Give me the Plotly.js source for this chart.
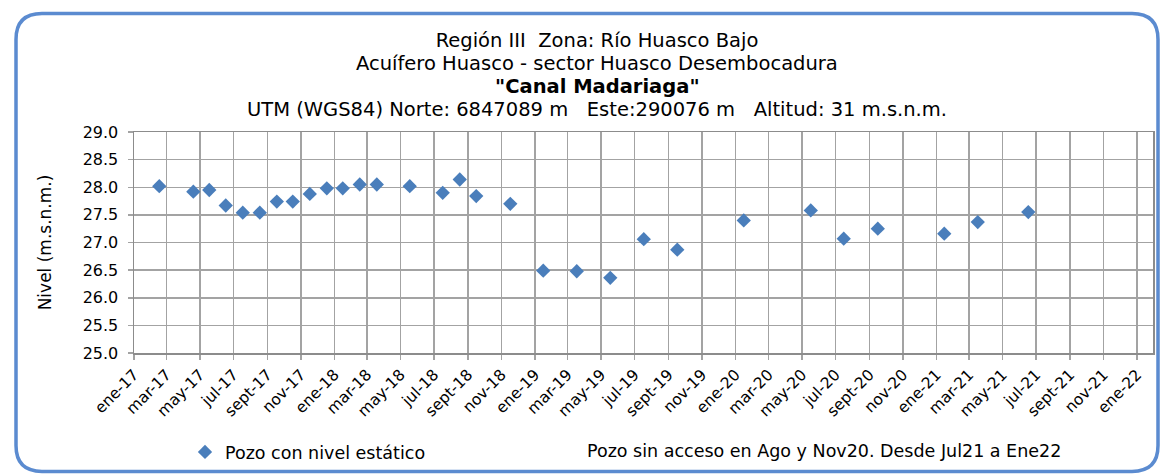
<!DOCTYPE html>
<html>
<head>
<meta charset="utf-8">
<script src="https://cdn.plot.ly/plotly-3.0.1.min.js"></script>
<style>
  html, body { margin: 0; padding: 0; background: #ffffff; }
  #chart { width: 1160px; height: 475px; }
</style>
</head>
<body>
<div id="chart"></div>
<script>
// ---- Data ----
const measureDates = [
  '2017-02-16', '2017-04-19', '2017-05-18', '2017-06-17', '2017-07-18', '2017-08-18',
  '2017-09-18', '2017-10-17', '2017-11-17', '2017-12-18', '2018-01-16', '2018-02-16',
  '2018-03-19', '2018-05-18', '2018-07-17', '2018-08-17', '2018-09-16', '2018-11-17',
  '2019-01-16', '2019-03-18', '2019-05-18', '2019-07-18', '2019-09-17',
  '2020-01-16', '2020-05-17', '2020-07-16', '2020-09-16',
  '2021-01-15', '2021-03-17', '2021-06-17'
];
const staticLevel = [
  28.02, 27.92, 27.95, 27.67, 27.54, 27.54,
  27.74, 27.74, 27.88, 27.98, 27.98, 28.05,
  28.05, 28.02, 27.90, 28.14, 27.84, 27.70,
  26.49, 26.48, 26.36, 27.06, 26.87,
  27.40, 27.58, 27.07, 27.25,
  27.16, 27.37, 27.55
];
const tickDates = [
  '2017-01-01','2017-03-01','2017-05-01','2017-07-01','2017-09-01','2017-11-01',
  '2018-01-01','2018-03-01','2018-05-01','2018-07-01','2018-09-01','2018-11-01',
  '2019-01-01','2019-03-01','2019-05-01','2019-07-01','2019-09-01','2019-11-01',
  '2020-01-01','2020-03-01','2020-05-01','2020-07-01','2020-09-01','2020-11-01',
  '2021-01-01','2021-03-01','2021-05-01','2021-07-01','2021-09-01','2021-11-01',
  '2022-01-01'
];
const tickLabels = [
  'ene-17','mar-17','may-17','jul-17','sept-17','nov-17',
  'ene-18','mar-18','may-18','jul-18','sept-18','nov-18',
  'ene-19','mar-19','may-19','jul-19','sept-19','nov-19',
  'ene-20','mar-20','may-20','jul-20','sept-20','nov-20',
  'ene-21','mar-21','may-21','jul-21','sept-21','nov-21',
  'ene-22'
];
const yTicks = [25.0, 25.5, 26.0, 26.5, 27.0, 27.5, 28.0, 28.5, 29.0];
const yTickLabels = ['25.0','25.5','26.0','26.5','27.0','27.5','28.0','28.5','29.0'];

const seriesName = 'Pozo con nivel estático';
const noteText = 'Pozo sin acceso en Ago y Nov20. Desde Jul21 a Ene22';
const titleLines = [
  'Región III\u00a0\u00a0Zona: Río Huasco Bajo',
  'Acuífero Huasco - sector Huasco Desembocadura',
  '<b>"Canal Madariaga"</b>',
  'UTM (WGS84) Norte: 6847089 m\u00a0\u00a0\u00a0Este:290076 m\u00a0\u00a0\u00a0Altitud: 31 m.s.n.m.'
];

// ---- Layout geometry ----
const W = 1160, H = 475;
const M = { l: 134, r: 7, t: 132, b: 121 };
const pw = W - M.l - M.r, ph = H - M.t - M.b;
const px2x = (px) => (px - M.l) / pw;          // pixel -> paper x
const py2y = (py) => (H - M.b - py) / ph;      // pixel -> paper y

// rounded frame path in paper coordinates
function framePath(x0, y0, x1, y1, r) {
  const X = px2x, Y = py2y;
  const rx = r / pw, ry = r / ph;
  const a = X(x0), b = X(x1), c = Y(y0), d = Y(y1);
  return `M ${a + rx},${c} L ${b - rx},${c} Q ${b},${c} ${b},${c - ry} ` +
         `L ${b},${d + ry} Q ${b},${d} ${b - rx},${d} ` +
         `L ${a + rx},${d} Q ${a},${d} ${a},${d + ry} ` +
         `L ${a},${c - ry} Q ${a},${c} ${a + rx},${c} Z`;
}

const FONT = 'DejaVu Sans, Verdana, sans-serif';
const GRID = '#a3a3a3';
const TITLE_X = 597;                 // centre of title block (px)
const TITLE_Y = [40, 63, 86, 109];   // centre of each title line (px)
const TITLE_SIZE = 19.5;

const trace = {
  type: 'scatter',
  mode: 'markers',
  name: seriesName,
  x: measureDates,
  y: staticLevel,
  marker: { symbol: 'diamond', size: 11, color: '#4a7ebb', line: { width: 0 } },
  showlegend: true
};

const titleAnnotations = titleLines.slice(1).map((t, i) => ({
  text: t,
  xref: 'paper', yref: 'paper',
  x: px2x(TITLE_X), y: py2y(TITLE_Y[i + 1]),
  xanchor: 'center', yanchor: 'middle',
  showarrow: false,
  font: { family: FONT, size: TITLE_SIZE, color: '#000000' }
}));

const layout = {
  width: W, height: H,
  margin: M,
  paper_bgcolor: '#ffffff',
  plot_bgcolor: '#ffffff',
  font: { family: FONT, color: '#000000', size: 14 },
  title: {
    text: titleLines[0],
    font: { family: FONT, size: TITLE_SIZE, color: '#000000' },
    x: TITLE_X / W, xanchor: 'center', xref: 'container',
    y: 1 - TITLE_Y[0] / H, yanchor: 'middle', yref: 'container'
  },
  xaxis: {
    type: 'date',
    range: ['2017-01-01', '2022-01-30'],
    tickmode: 'array',
    tickvals: tickDates,
    ticktext: tickLabels,
    tickangle: -45,
    tickfont: { family: FONT, size: 15.5, color: '#000000' },
    showgrid: true, gridcolor: GRID, gridwidth: 1.5,
    showline: true, linecolor: '#8c8c8c', linewidth: 1.5, mirror: true,
    ticks: 'outside', ticklen: 5, tickcolor: GRID, tickwidth: 1.5,
    zeroline: false, automargin: false, fixedrange: true
  },
  yaxis: {
    range: [25, 29],
    tickmode: 'array',
    tickvals: yTicks,
    ticktext: yTickLabels,
    tickfont: { family: FONT, size: 16, color: '#000000' },
    ticklabelstandoff: 6,
    showgrid: true, gridcolor: GRID, gridwidth: 1.5,
    showline: true, linecolor: '#8c8c8c', linewidth: 1.5, mirror: true,
    ticks: 'outside', ticklen: 5, tickcolor: GRID, tickwidth: 1.5,
    zeroline: false, automargin: false, fixedrange: true,
    title: { text: 'Nivel (m.s.n.m.)', font: { family: FONT, size: 17, color: '#000000' }, standoff: 26 }
  },
  showlegend: true,
  legend: {
    orientation: 'h',
    x: px2x(185), xanchor: 'left',
    y: py2y(452), yanchor: 'middle',
    font: { family: FONT, size: 17.5, color: '#000000' },
    bgcolor: 'rgba(0,0,0,0)'
  },
  annotations: titleAnnotations.concat([{
    text: noteText,
    xref: 'paper', yref: 'paper',
    x: px2x(585), y: py2y(452),
    xanchor: 'left', yanchor: 'middle',
    showarrow: false,
    font: { family: FONT, size: 17.5, color: '#000000' }
  }]),
  shapes: [{
    type: 'path',
    xref: 'paper', yref: 'paper',
    path: framePath(16, 13, 1158, 473, 26),
    line: { color: '#5b8bd0', width: 3.5 },
    fillcolor: 'rgba(0,0,0,0)',
    layer: 'below'
  }]
};

Plotly.newPlot('chart', [trace], layout, { displayModeBar: false, staticPlot: true });
</script>
</body>
</html>
